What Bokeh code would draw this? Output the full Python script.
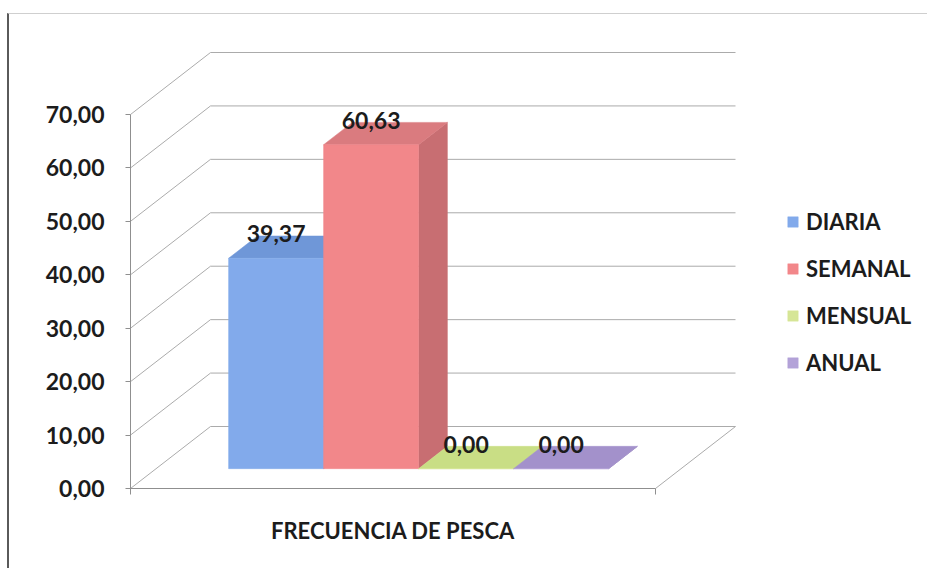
from bokeh.plotting import figure
from bokeh.models import Range1d, FixedTicker, Legend, LegendItem
from bokeh.core.properties import value
from bokeh.embed import file_html
from bokeh.resources import INLINE

# ---------------- data ----------------
categories = ["FRECUENCIA DE PESCA"]
series = ["DIARIA", "SEMANAL", "MENSUAL", "ANUAL"]
values = [39.37, 60.63, 0.00, 0.00]
y_ticks = [0, 10, 20, 30, 40, 50, 60, 70]
y_tick_labels = ["0,00", "10,00", "20,00", "30,00", "40,00", "50,00", "60,00", "70,00"]

# ---------------- styles ----------------
front_colors = ["#82AAEB", "#F2878A", "#D6E697", "#B3A2D8"]
top_colors = ["#6F97D8", "#DA7B7F", "#C9DE85", "#A391CB"]
side_colors = ["#5F86C4", "#C86E72", "#B3C670", "#8E7AB6"]
grid_color = "#ababab"
axis_color = "#8f8f8f"
text_color = "#1c1c1c"
FONT = "Lato"

FIG_W, FIG_H = 920, 555
LEFT, TOP = 121, 6
FRAME_W = FIG_W - LEFT
FRAME_H = 476
BOTTOM = FIG_H - TOP - FRAME_H
PX_X = 525.0              # pixels per category width
PX_Y = 374.0 / 70.0       # pixels per value unit
BELOW_PX = 8.0            # frame extends this far below the zero line
TICK_PX = 6.0
DX = 80.0 / PX_X          # depth of the floor (data units)
DY = 62.0 / PX_Y
BAR_W = 95.0 / PX_X
FRONT_GAP = 0.32
BAR_DEPTH = 0.36

y0_range = -BELOW_PX / PX_Y
p = figure(width=FIG_W, height=FIG_H, output_backend="svg", toolbar_location=None, tools="",
           x_range=Range1d(0, FRAME_W / PX_X),
           y_range=Range1d(y0_range, y0_range + FRAME_H / PX_Y),
           min_border_left=LEFT, min_border_right=0, min_border_top=TOP, min_border_bottom=BOTTOM)
p.outline_line_color = None
p.grid.visible = False
p.background_fill_color = "white"
p.border_fill_color = "white"
p.styles = {"margin-top": "13px", "margin-left": "7px",
            "border-top": "1px solid #cfcfcf", "border-left": "2px solid #5a5a5a"}

# ---------------- 3D walls ----------------
back_xs = [[DX, 1 + DX] for _ in y_ticks]
back_ys = [[t + DY, t + DY] for t in y_ticks]
diag_xs = [[0, DX] for _ in y_ticks]
diag_ys = [[t, t + DY] for t in y_ticks]
p.multi_line(back_xs + diag_xs + [[1, 1 + DX]],
             back_ys + diag_ys + [[0, DY]],
             line_color=grid_color, line_width=1)
# front edge of the floor (category axis) with its end tick
p.line([0, 1], [0, 0], line_color=axis_color, line_width=1)
p.segment(x0=[1], y0=[0], x1=[1], y1=[-TICK_PX / PX_Y], line_color=axis_color, line_width=1)

# ---------------- bars ----------------
start = 0.5 - len(series) * BAR_W / 2
fx, fy = FRONT_GAP * DX, FRONT_GAP * DY
bx, by = BAR_DEPTH * DX, BAR_DEPTH * DY
front_renderers = []
lab_x, lab_y, lab_t = [], [], []
for i, (name, v) in enumerate(zip(series, values)):
    x0 = start + i * BAR_W + fx
    x1 = x0 + BAR_W
    y0 = fy
    y1 = fy + v
    p.patch([x1, x1, x1 + bx, x1 + bx], [y0, y1, y1 + by, y0 + by],
            fill_color=side_colors[i], line_color=side_colors[i], line_width=0.5)
    p.patch([x0, x1, x1 + bx, x0 + bx], [y1, y1, y1 + by, y1 + by],
            fill_color=top_colors[i], line_color=top_colors[i], line_width=0.5)
    r = p.quad(left=[x0], right=[x1], bottom=[y0], top=[y1],
               fill_color=front_colors[i], line_color=front_colors[i], line_width=0.5)
    front_renderers.append(r)
    lab_x.append((x0 + x1) / 2)
    lab_y.append(y1 + by)
    lab_t.append(f"{v:.2f}".replace(".", ","))

p.text(x=lab_x, y=lab_y, text=lab_t, text_align="center", text_baseline="middle",
       y_offset=-2, text_font=value(FONT), text_font_style="bold",
       text_font_size="23px", text_color=text_color)

# ---------------- axes ----------------
p.yaxis.ticker = FixedTicker(ticks=y_ticks)
p.yaxis.bounds = (-TICK_PX / PX_Y, y_ticks[-1])
p.yaxis.major_label_overrides = dict(zip(y_ticks, y_tick_labels))
p.yaxis.major_label_text_font = FONT
p.yaxis.major_label_text_font_style = "bold"
p.yaxis.major_label_text_font_size = "23px"
p.yaxis.major_label_text_color = text_color
p.yaxis.major_label_standoff = 21
p.yaxis.major_tick_out = 5
p.yaxis.major_tick_in = 0
p.yaxis.minor_tick_out = 0
p.yaxis.minor_tick_in = 0
p.yaxis.axis_line_color = axis_color
p.yaxis.major_tick_line_color = axis_color

p.xaxis.ticker = FixedTicker(ticks=[0.5])
p.xaxis.major_label_overrides = {0.5: categories[0]}
p.xaxis.major_label_text_font = FONT
p.xaxis.major_label_text_font_style = "bold"
p.xaxis.major_label_text_font_size = "22px"
p.xaxis.major_label_text_color = text_color
p.xaxis.major_label_standoff = 20
p.xaxis.major_tick_out = 0
p.xaxis.major_tick_in = 0
p.xaxis.minor_tick_out = 0
p.xaxis.minor_tick_in = 0
p.xaxis.axis_line_color = None

# ---------------- legend ----------------
legend = Legend(items=[LegendItem(label=s, renderers=[r]) for s, r in zip(series, front_renderers)],
                location=(656, 119), orientation="vertical")
legend.label_text_font = FONT
legend.label_text_font_style = "bold"
legend.label_text_font_size = "22px"
legend.label_text_color = text_color
legend.glyph_width = 13
legend.glyph_height = 13
legend.label_standoff = 7
legend.label_height = 30
legend.spacing = 17
legend.padding = 0
legend.margin = 0
legend.border_line_color = None
legend.background_fill_alpha = 0
p.add_layout(legend)

open("out.html", "w").write(file_html(p, INLINE))
